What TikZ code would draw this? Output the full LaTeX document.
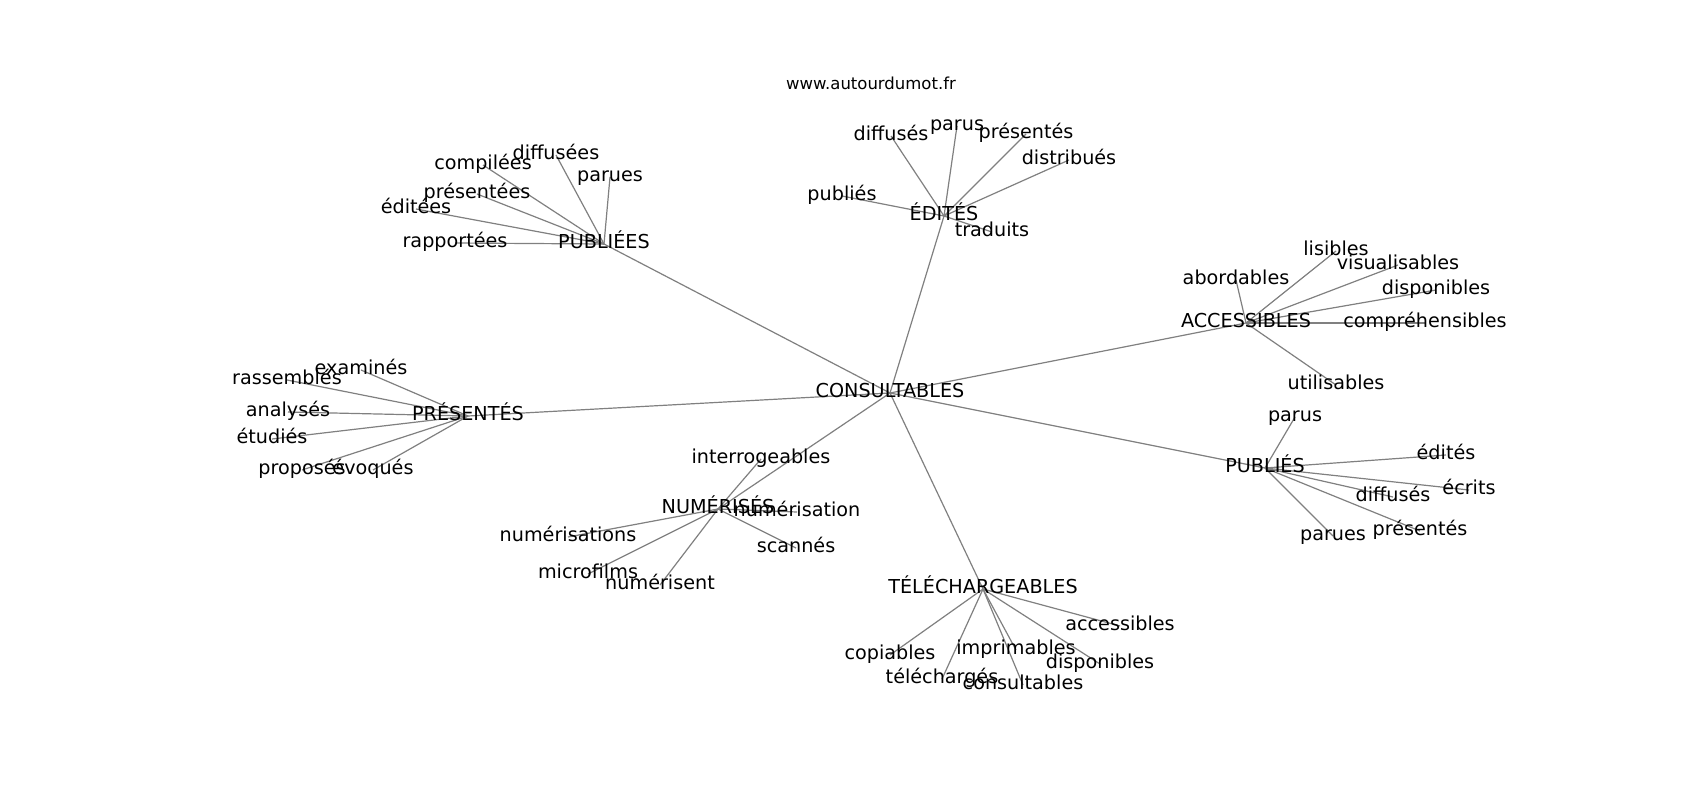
\documentclass[tikz,border=0pt]{standalone}
\usepackage{fontspec}
\setmainfont{DejaVu Sans}
\pgfdeclarelayer{bg}
\pgfsetlayers{bg,main}
\begin{document}
\begin{tikzpicture}[x=1pt,y=-1pt,
  lbl/.style={inner sep=0pt, text height=0.9em, text depth=0.1em, font=\fontsize{19.2}{23}\selectfont},
  ttl/.style={inner sep=0pt, text height=0.9em, text depth=0.1em, font=\fontsize{16.5}{19}\selectfont},
  edge/.style={draw=gray, line width=1.2pt}]
\begin{pgfonlayer}{bg}
\useasboundingbox[fill=white] (0,0) rectangle (1700,800);
\end{pgfonlayer}
\begin{scope}[yshift=-2pt]
\node[ttl] (title) at (871,83) {www.autourdumot.fr};
% hubs
\node[lbl] (C) at (890,391) {CONSULTABLES};
\node[lbl] (PE) at (604,242) {PUBLIÉES};
\node[lbl] (ED) at (944,214) {ÉDITÉS};
\node[lbl] (AC) at (1246,321) {ACCESSIBLES};
\node[lbl] (PR) at (468,414) {PRÉSENTÉS};
\node[lbl] (PS) at (1265,466) {PUBLIÉS};
\node[lbl] (NU) at (718,507) {NUMÉRISÉS};
\node[lbl] (TE) at (983,587) {TÉLÉCHARGEABLES};
% PUBLIÉES leaves
\node[lbl] (pe1) at (556,153) {diffusées};
\node[lbl] (pe2) at (483,163) {compilées};
\node[lbl] (pe3) at (610,175) {parues};
\node[lbl] (pe4) at (477,192) {présentées};
\node[lbl] (pe5) at (416,207) {éditées};
\node[lbl] (pe6) at (455,241) {rapportées};
% ÉDITÉS leaves
\node[lbl] (ed1) at (891,134) {diffusés};
\node[lbl] (ed2) at (957,124) {parus};
\node[lbl] (ed3) at (1026,132) {présentés};
\node[lbl] (ed4) at (1069,158) {distribués};
\node[lbl] (ed5) at (842,194) {publiés};
\node[lbl] (ed6) at (992,230) {traduits};
% ACCESSIBLES leaves
\node[lbl] (ac1) at (1236,278) {abordables};
\node[lbl] (ac2) at (1336,249) {lisibles};
\node[lbl] (ac3) at (1398,263) {visualisables};
\node[lbl] (ac4) at (1436,288) {disponibles};
\node[lbl] (ac5) at (1425,321) {compréhensibles};
\node[lbl] (ac6) at (1336,383) {utilisables};
% PRÉSENTÉS leaves
\node[lbl] (pr1) at (361,368) {examinés};
\node[lbl] (pr2) at (287,378) {rassemblés};
\node[lbl] (pr3) at (288,410) {analysés};
\node[lbl] (pr4) at (272,437) {étudiés};
\node[lbl] (pr5) at (302,468) {proposés};
\node[lbl] (pr6) at (373,468) {évoqués};
% PUBLIÉS leaves
\node[lbl] (ps1) at (1295,415) {parus};
\node[lbl] (ps2) at (1446,453) {édités};
\node[lbl] (ps3) at (1469,488) {écrits};
\node[lbl] (ps4) at (1393,495) {diffusés};
\node[lbl] (ps5) at (1420,529) {présentés};
\node[lbl] (ps6) at (1333,534) {parues};
% NUMÉRISÉS leaves
\node[lbl] (nu1) at (761,457) {interrogeables};
\node[lbl] (nu2) at (797,510) {numérisation};
\node[lbl] (nu3) at (568,535) {numérisations};
\node[lbl] (nu4) at (796,546) {scannés};
\node[lbl] (nu5) at (588,572) {microfilms};
\node[lbl] (nu6) at (660,583) {numérisent};
% TÉLÉCHARGEABLES leaves
\node[lbl] (te1) at (1120,624) {accessibles};
\node[lbl] (te2) at (890,653) {copiables};
\node[lbl] (te3) at (1016,648) {imprimables};
\node[lbl] (te4) at (1100,662) {disponibles};
\node[lbl] (te5) at (942,677) {téléchargés};
\node[lbl] (te6) at (1023,683) {consultables};
\end{scope}
\begin{pgfonlayer}{bg}
\foreach \h in {PE,ED,AC,PR,PS,NU,TE}
  \draw[edge] (C.center) -- (\h.center);
\foreach \l in {pe1,pe2,pe3,pe4,pe5,pe6}
  \draw[edge] (PE.center) -- (\l.center);
\foreach \l in {ed1,ed2,ed3,ed4,ed5,ed6}
  \draw[edge] (ED.center) -- (\l.center);
\foreach \l in {ac1,ac2,ac3,ac4,ac5,ac6}
  \draw[edge] (AC.center) -- (\l.center);
\foreach \l in {pr1,pr2,pr3,pr4,pr5,pr6}
  \draw[edge] (PR.center) -- (\l.center);
\foreach \l in {ps1,ps2,ps3,ps4,ps5,ps6}
  \draw[edge] (PS.center) -- (\l.center);
\foreach \l in {nu1,nu2,nu3,nu4,nu5,nu6}
  \draw[edge] (NU.center) -- (\l.center);
\foreach \l in {te1,te2,te3,te4,te5,te6}
  \draw[edge] (TE.center) -- (\l.center);
\end{pgfonlayer}
\end{tikzpicture}
\end{document}
